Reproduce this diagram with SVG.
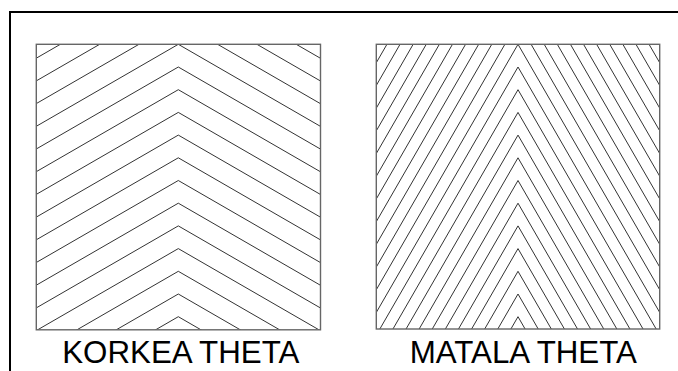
<svg xmlns="http://www.w3.org/2000/svg" xmlns:xlink="http://www.w3.org/1999/xlink" width="678" height="371" viewBox="0 0 678 371">
<style>
.hatch{fill:none;stroke:#333;stroke-width:1}
.box{fill:none;stroke:#666;stroke-width:1.4}
.lbl{font-family:"Liberation Sans",Arial,sans-serif;font-size:31.3px;fill:#000;text-anchor:middle}
.frame{fill:none;stroke:#000;stroke-width:2}
</style>
<defs>
<path id="chevL" d="M-150,86.6 L0,0 L150,86.6"/>
<path id="chevR" d="M-150,259.8 L0,0 L150,259.8"/>
<clipPath id="clipL"><rect x="36.3" y="44.3" width="284.2" height="285.5"/></clipPath>
<clipPath id="clipR"><rect x="376.3" y="44.3" width="283.4" height="284.7"/></clipPath>
</defs>
<rect width="678" height="371" fill="#fff"/>
<path class="frame" d="M10,371 V12 H678"/>
<g id="korkea">
<g class="hatch" clip-path="url(#clipL)">
<use xlink:href="#chevL" x="178.3" y="-46.5"/>
<use xlink:href="#chevL" x="178.3" y="-23.8"/>
<use xlink:href="#chevL" x="178.3" y="-1.1"/>
<use xlink:href="#chevL" x="178.3" y="21.6"/>
<use xlink:href="#chevL" x="178.3" y="44.3"/>
<use xlink:href="#chevL" x="178.3" y="67.0"/>
<use xlink:href="#chevL" x="178.3" y="89.7"/>
<use xlink:href="#chevL" x="178.3" y="112.4"/>
<use xlink:href="#chevL" x="178.3" y="135.1"/>
<use xlink:href="#chevL" x="178.3" y="157.8"/>
<use xlink:href="#chevL" x="178.3" y="180.5"/>
<use xlink:href="#chevL" x="178.3" y="203.2"/>
<use xlink:href="#chevL" x="178.3" y="225.9"/>
<use xlink:href="#chevL" x="178.3" y="248.6"/>
<use xlink:href="#chevL" x="178.3" y="271.3"/>
<use xlink:href="#chevL" x="178.3" y="294.0"/>
<use xlink:href="#chevL" x="178.3" y="316.7"/>
</g>
<rect class="box" x="36.3" y="44.3" width="284.2" height="285.5"/>
<text class="lbl" x="180.8" y="362.5">KORKEA THETA</text>
</g>
<g id="matala">
<g class="hatch" clip-path="url(#clipR)">
<use xlink:href="#chevR" x="518" y="-205.4"/>
<use xlink:href="#chevR" x="518" y="-182.7"/>
<use xlink:href="#chevR" x="518" y="-160.0"/>
<use xlink:href="#chevR" x="518" y="-137.3"/>
<use xlink:href="#chevR" x="518" y="-114.6"/>
<use xlink:href="#chevR" x="518" y="-91.9"/>
<use xlink:href="#chevR" x="518" y="-69.2"/>
<use xlink:href="#chevR" x="518" y="-46.5"/>
<use xlink:href="#chevR" x="518" y="-23.8"/>
<use xlink:href="#chevR" x="518" y="-1.1"/>
<use xlink:href="#chevR" x="518" y="21.6"/>
<use xlink:href="#chevR" x="518" y="44.3"/>
<use xlink:href="#chevR" x="518" y="67.0"/>
<use xlink:href="#chevR" x="518" y="89.7"/>
<use xlink:href="#chevR" x="518" y="112.4"/>
<use xlink:href="#chevR" x="518" y="135.1"/>
<use xlink:href="#chevR" x="518" y="157.8"/>
<use xlink:href="#chevR" x="518" y="180.5"/>
<use xlink:href="#chevR" x="518" y="203.2"/>
<use xlink:href="#chevR" x="518" y="225.9"/>
<use xlink:href="#chevR" x="518" y="248.6"/>
<use xlink:href="#chevR" x="518" y="271.3"/>
<use xlink:href="#chevR" x="518" y="294.0"/>
<use xlink:href="#chevR" x="518" y="316.7"/>
</g>
<rect class="box" x="376.3" y="44.3" width="283.4" height="284.7"/>
<text class="lbl" x="523.3" y="362.5">MATALA THETA</text>
</g>
</svg>
